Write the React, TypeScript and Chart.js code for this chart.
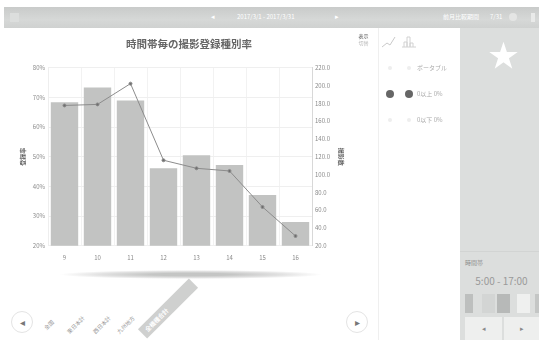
import React, { useEffect, useRef } from "react";
import { Chart, registerables } from "chart.js";

Chart.register(...registerables);

const hours = ["9", "10", "11", "12", "13", "14", "15", "16"];
const shareValues = [68.3, 73.3, 68.9, 46.1, 50.5, 47.2, 37.1, 28];
const countValues = [177.5, 178.7, 202, 116, 107, 104, 63.6, 31];
const regionTabs = ["全国", "東日本計", "西日本計", "九州地方"];
const activeTab = "全機種合計";
const legendRows = [
  { label: "ポータブル", color: "#eeeeee", size: 4 },
  { label: "0以上 0%", color: "#666666", size: 8 },
  { label: "0以下 0%", color: "#eeeeee", size: 4 },
];
const swatches = [
  { x: 5, w: 8, c: "#bdbfbe" },
  { x: 22, w: 13, c: "#d3d5d4" },
  { x: 37, w: 13, c: "#b7b9b8" },
  { x: 57, w: 13, c: "#eff0ef" },
  { x: 75, w: 4, c: "#c4c6c5" },
];

const FONT = "'Noto Sans CJK JP', 'Noto Sans', sans-serif";
const abs = (left: number, top: number, width: number, height: number): React.CSSProperties => ({
  position: "absolute",
  left,
  top,
  width,
  height,
});

export default function App() {
  const ref = useRef<HTMLCanvasElement>(null);

  useEffect(() => {
    const chart = new Chart(ref.current!, {
      type: "bar",
      data: {
        labels: hours,
        datasets: [
          {
            type: "line",
            label: "撮影数",
            data: countValues,
            yAxisID: "count",
            borderColor: "#8c8c8c",
            backgroundColor: "#6e6e6e",
            borderWidth: 1,
            pointRadius: 1.5,
            tension: 0,
            order: 1,
          },
          {
            type: "bar",
            label: "登録率",
            data: shareValues,
            yAxisID: "share",
            backgroundColor: "#c2c3c2",
            categoryPercentage: 1,
            barPercentage: 0.83,
            order: 2,
          },
        ],
      },
      options: {
        animation: false,
        responsive: false,
        layout: { padding: { top: 0, bottom: 0, left: 0, right: 0 } },
        plugins: {
          legend: { display: false },
          tooltip: { enabled: false },
          title: {
            display: true,
            text: "時間帯毎の撮影登録種別率",
            color: "#666666",
            font: { family: FONT, size: 10.5, weight: "bold" },
            padding: { top: 10, bottom: 17 },
          },
        },
        scales: {
          x: {
            grid: { color: "#f2f2f2", drawTicks: false },
            border: { display: false },
            ticks: { color: "#8a8a8a", font: { family: FONT, size: 6 }, padding: 8, maxRotation: 0 },
          },
          share: {
            position: "left",
            min: 20,
            max: 80,
            afterFit: (s: any) => {
              s.width = 48;
            },
            grid: { color: "#efefef", drawTicks: false },
            border: { color: "#eeeeee" },
            ticks: {
              stepSize: 10,
              color: "#8a8a8a",
              padding: 3,
              font: { family: FONT, size: 6 },
              callback: (v: any) => `${v}%`,
            },
            title: {
              display: true,
              text: "登録率",
              color: "#666666",
              font: { family: FONT, size: 6, weight: "bold" },
              padding: { top: 19, bottom: 0 },
            },
          },
          count: {
            position: "right",
            min: 20,
            max: 220,
            afterFit: (s: any) => {
              s.width = 66;
            },
            grid: { display: false, drawTicks: false },
            border: { color: "#d8d8d8" },
            ticks: {
              stepSize: 20,
              color: "#8a8a8a",
              padding: 3,
              font: { family: FONT, size: 6 },
              callback: (v: any) => Number(v).toFixed(1),
            },
            title: {
              display: true,
              text: "撮影数",
              color: "#666666",
              font: { family: FONT, size: 6, weight: "bold" },
              padding: { top: 33, bottom: 0 },
            },
          },
        },
      },
    });
    return () => chart.destroy();
  }, []);

  return (
    <div style={{ ...abs(0, 0, 539, 340), background: "#fff", overflow: "hidden", fontFamily: FONT }}>
      {/* header bar */}
      <div
        style={{
          ...abs(4, 7, 535, 21),
          background: "linear-gradient(#c9cbca, #d6d8d7 60%, #cfd1d0)",
          color: "#fff",
          fontSize: 6,
        }}
      >
        <div style={{ ...abs(6, 6, 9, 9), background: "#dcdedd" }} />
        <div style={{ ...abs(207, 4, 6, 11), fontSize: 7, lineHeight: "11px" }}>◂</div>
        <div style={{ ...abs(233, 5, 80, 10), lineHeight: "10px", whiteSpace: "nowrap" }}>2017/3/1 - 2017/3/31</div>
        <div style={{ ...abs(331, 4, 6, 11), fontSize: 7, lineHeight: "11px" }}>▸</div>
        <div style={{ ...abs(439, 5, 44, 10), lineHeight: "10px", whiteSpace: "nowrap" }}>前月比較期間</div>
        <div style={{ ...abs(486, 5, 14, 10), lineHeight: "10px" }}>7/31</div>
        <div style={{ ...abs(505, 6, 8, 8), borderRadius: 4, background: "#e4e5e4" }} />
        <div style={{ ...abs(527, 6, 4, 9), background: "#e9eae9" }} />
      </div>

      <div style={{ ...abs(0, 28, 378, 252) }}>
        <canvas ref={ref} width={378} height={241} style={{ display: "block" }} />
      </div>

      {/* soft shadow under the plot */}
      <div
        style={{
          ...abs(60, 270, 262, 9),
          background: "radial-gradient(ellipse closest-side, #c4c5c4 30%, #e2e2e2 70%, #ffffff 100%)",
        }}
      />

      {/* carousel arrows */}
      {[{ x: 11, t: "◂" }, { x: 346, t: "▸" }].map((b) => (
        <div
          key={b.x}
          style={{
            ...abs(b.x, 311, 22, 22),
            boxSizing: "border-box",
            border: "1px solid #e4e4e4",
            borderRadius: 11,
            textAlign: "center",
            lineHeight: "20px",
            fontSize: 10,
            color: "#777",
          }}
        >
          {b.t}
        </div>
      ))}

      {/* carousel tabs */}
      {regionTabs.map((t, i) => (
        <div
          key={t}
          style={{
            ...abs([31, 58, 84, 108][i], 321, 36, 8),
            fontSize: 5.5,
            lineHeight: "8px",
            color: "#999",
            textAlign: "center",
            transform: "rotate(-45deg)",
            whiteSpace: "nowrap",
          }}
        >
          {t}
        </div>
      ))}
      <div
        style={{
          ...abs(132, 302, 72, 13),
          background: "#cfd0cf",
          color: "#fff",
          fontSize: 6,
          fontWeight: 700,
          lineHeight: "13px",
          paddingLeft: 5,
          boxSizing: "border-box",
          transform: "rotate(-45deg)",
          whiteSpace: "nowrap",
        }}
      >
        {activeTab}
      </div>

      <div style={{ ...abs(378, 28, 1, 312), background: "#efefef" }} />

      {/* chart toolbar */}
      <div style={{ ...abs(357, 33, 13, 6), fontSize: 5, lineHeight: "6px", color: "#555", textAlign: "center", whiteSpace: "nowrap" }}>
        表示
      </div>
      <div style={{ ...abs(357, 40, 13, 6), fontSize: 5, lineHeight: "6px", color: "#bbb", textAlign: "center", whiteSpace: "nowrap" }}>
        切替
      </div>
      <svg style={abs(380, 34, 48, 16)} viewBox="0 0 48 16">
        <polyline points="2,13 7,9 10,11 15,3" fill="none" stroke="#c9c9c9" strokeWidth="1" />
        <path d="M24 13V8H27V13M27 13V3H30V13M30 13V9H33V13M22 13H36" fill="none" stroke="#d2d2d2" strokeWidth="1" />
      </svg>

      {/* legend */}
      {legendRows.map((r, i) => (
        <div key={r.label}>
          {[390, 409].map((x) => (
            <div
              key={x}
              style={{
                ...abs(x - r.size / 2, 68 + i * 26 - r.size / 2, r.size, r.size),
                borderRadius: r.size / 2,
                background: r.color,
              }}
            />
          ))}
          <div
            style={{
              ...abs(417, 64 + i * 26, 40, 8),
              fontSize: 6,
              lineHeight: "8px",
              color: "#aaa",
              whiteSpace: "nowrap",
            }}
          >
            {r.label}
          </div>
        </div>
      ))}

      {/* side panel */}
      <div style={{ ...abs(460, 28, 79, 312), background: "#dcdedd" }}>
        <div style={{ ...abs(4, 8, 79, 34), fontSize: 30, lineHeight: "34px", color: "#fff", textAlign: "center" }}>★</div>
        <div style={{ ...abs(0, 223, 79, 1), background: "#d2d4d3" }} />
        <div style={{ ...abs(5, 231, 30, 8), fontSize: 6, lineHeight: "8px", color: "#8e8e8e" }}>時間帯</div>
        <div style={{ ...abs(2, 246, 79, 14), fontSize: 10, lineHeight: "14px", color: "#9a9a9a", textAlign: "center" }}>
          5:00 - 17:00
        </div>
        {swatches.map((s, i) => (
          <div key={i} style={{ ...abs(s.x, 266, s.w, 19), background: s.c }} />
        ))}
        {[{ x: 5, w: 37, t: "◂" }, { x: 44, w: 35, t: "▸" }].map((b) => (
          <div
            key={b.x}
            style={{
              ...abs(b.x, 289, b.w, 23),
              background: "#eeefee",
              textAlign: "center",
              lineHeight: "23px",
              fontSize: 7,
              color: "#8a8a8a",
            }}
          >
            {b.t}
          </div>
        ))}
      </div>
    </div>
  );
}
